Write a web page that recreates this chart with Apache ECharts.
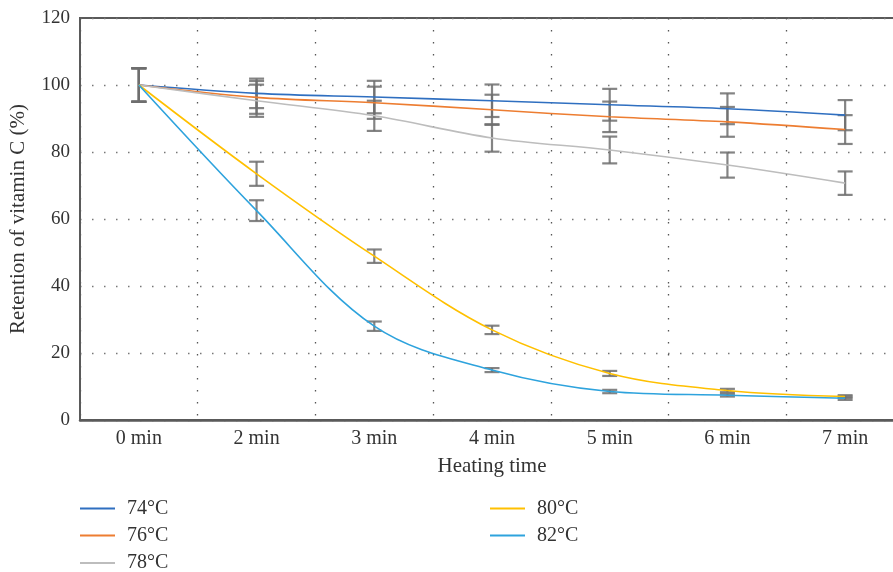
<!DOCTYPE html>
<html>
<head>
<meta charset="utf-8">
<script src="https://cdn.jsdelivr.net/npm/echarts@6/dist/echarts.min.js"></script>
<style>html,body{margin:0;padding:0;background:#fff}#c{width:893px;height:572px}</style>
</head>
<body>
<div id="c"></div>
<script>
var categories = ['0 min', '2 min', '3 min', '4 min', '5 min', '6 min', '7 min'];
var seriesNames = ['74°C', '76°C', '78°C', '80°C', '82°C'];
var s74 = [100, 97.5, 96.4, 95.3, 94.1, 92.9, 91.0];
var s76 = [100, 96.3, 94.7, 92.6, 90.5, 89.0, 86.7];
var s78 = [100, 95.3, 90.8, 84.2, 80.6, 76.1, 70.7];
var s80 = [100, 73.5, 48.9, 26.9, 13.9, 8.8, 7.0];
var s82 = [100, 62.5, 28.0, 14.9, 8.5, 7.4, 6.5];
var e74 = [5, 4.4, 4.85, 4.85, 4.75, 4.6, 4.5];
var e76 = [5, 4.9, 4.8, 4.5, 4.55, 4.45, 4.3];
var e78 = [5, 4.8, 4.5, 4.1, 4.0, 3.75, 3.5];
var e80 = [5, 3.6, 2.0, 1.25, 0.75, 0.5, 0.4];
var e82 = [5, 3.1, 1.4, 0.6, 0.5, 0.4, 0.5];
var yTicks = [0, 20, 40, 60, 80, 100, 120];

var colors = ['#2f6fc0', '#ed7d31', '#bdbdbd', '#ffc000', '#2ea3dd'];
var values = [s74, s76, s78, s80, s82];
var errors = [e74, e76, e78, e80, e82];
var FONT = '"Liberation Serif", "DejaVu Serif", serif';

var chart = echarts.init(document.getElementById('c'), null, {renderer: 'canvas'});

var series = [];
values.forEach(function (vals, k) {
  var errData = vals.map(function (v, i) { return [i, v - errors[k][i], v + errors[k][i]]; });
  series.push({
    type: 'custom',
    name: seriesNames[k] + ' err',
    z: 1,
    silent: true,
    data: errData,
    renderItem: function (params, api) {
      var x = api.value(0);
      var lo = api.coord([x, api.value(1)]);
      var hi = api.coord([x, api.value(2)]);
      var hw = 7.5;
      var st = {stroke: 'rgba(110,110,110,0.85)', lineWidth: 2.2};
      return {
        type: 'group',
        children: [
          {type: 'line', shape: {x1: lo[0], y1: lo[1], x2: hi[0], y2: hi[1]}, style: st},
          {type: 'line', shape: {x1: lo[0] - hw, y1: lo[1], x2: lo[0] + hw, y2: lo[1]}, style: st},
          {type: 'line', shape: {x1: hi[0] - hw, y1: hi[1], x2: hi[0] + hw, y2: hi[1]}, style: st}
        ]
      };
    }
  });
});
values.forEach(function (vals, k) {
  series.push({
    type: 'line',
    name: seriesNames[k],
    data: vals,
    smooth: 0.35,
    symbol: 'none',
    z: 3,
    lineStyle: {color: colors[k], width: 1.6},
    itemStyle: {color: colors[k]}
  });
});

var legendPos = [[80, 498.5], [80, 525.5], [80, 553], [490, 498.5], [490, 525.5]];
var legends = seriesNames.map(function (n, k) {
  return {
    data: [n],
    orient: 'horizontal', left: legendPos[k][0], top: legendPos[k][1], padding: 0,
    icon: 'rect', itemWidth: 35, itemHeight: 2,
    textStyle: {fontFamily: FONT, fontSize: 20, color: '#333', lineHeight: 20, padding: [0, 0, 0, 7]}
  };
});

var option = {
  animation: false,
  backgroundColor: '#ffffff',
  textStyle: {fontFamily: FONT},
  grid: {left: 80, width: 824, top: 18, bottom: 152, containLabel: false, outerBoundsMode: 'none',
         show: true, borderColor: '#5a5a5a', borderWidth: 2},
  legend: legends,
  xAxis: {
    type: 'category',
    data: categories,
    boundaryGap: true,
    name: 'Heating time',
    nameLocation: 'middle',
    nameGap: 36,
    nameTextStyle: {fontFamily: FONT, fontSize: 21, color: '#333'},
    axisLine: {show: true, lineStyle: {color: '#5a5a5a', width: 2.5}},
    axisTick: {show: false},
    axisLabel: {fontFamily: FONT, fontSize: 20, color: '#333', margin: 9},
    splitLine: {show: true, lineStyle: {color: '#555', type: [1.5, 10.5], width: 1.3}}
  },
  yAxis: {
    type: 'value',
    min: yTicks[0], max: yTicks[yTicks.length - 1], interval: 20,
    name: 'Retention of vitamin C (%)',
    nameLocation: 'middle',
    nameGap: 51,
    nameTextStyle: {fontFamily: FONT, fontSize: 21, color: '#333'},
    axisLine: {show: true, lineStyle: {color: '#5a5a5a', width: 2}},
    axisTick: {show: false},
    axisLabel: {fontFamily: FONT, fontSize: 19, color: '#333', margin: 10},
    splitLine: {show: true, lineStyle: {color: '#777', type: [1.5, 10.5], width: 1.3}}
  },
  series: series
};
chart.setOption(option);
</script>
</body>
</html>
